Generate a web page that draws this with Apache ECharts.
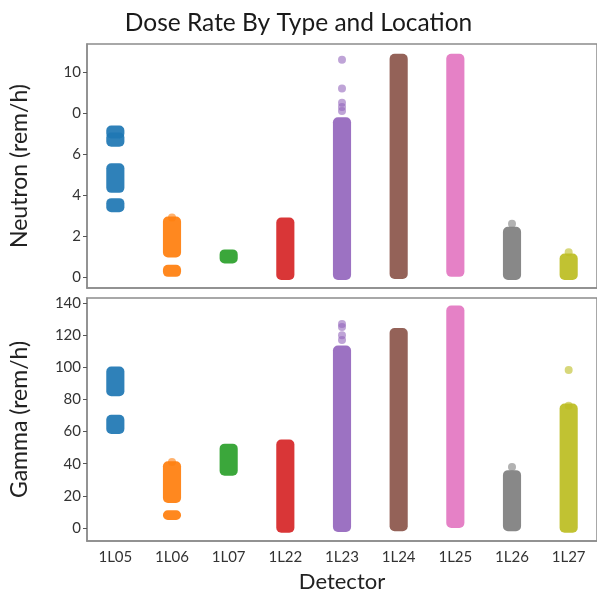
<!DOCTYPE html>
<html>
<head>
<meta charset="utf-8">
<script src="https://cdn.jsdelivr.net/npm/echarts@6/dist/echarts.min.js"></script>
<style>
  html, body { margin: 0; padding: 0; background: #fff; }
  #main { width: 597px; height: 597px; }
</style>
</head>
<body>
<div id="main"></div>
<script>
const detectors = ['1L05', '1L06', '1L07', '1L22', '1L23', '1L24', '1L25', '1L26', '1L27'];
const colors = ['#1f77b4', '#ff7f0e', '#2ca02c', '#d62728', '#9467bd', '#8c564b', '#e377c2', '#7f7f7f', '#bcbd22'];

// [detector index, low, high] of each dense band of readings
const neutronClusters = [
  [0, 6.95, 7.2], [0, 6.55, 6.85], [0, 4.3, 5.35], [0, 3.35, 3.65],
  [1, 1.15, 2.75], [1, 0.2, 0.4],
  [2, 0.85, 1.15],
  [3, 0.05, 2.7],
  [4, 0.05, 7.6],
  [5, 0.1, 10.7],
  [6, 0.2, 10.7],
  [7, 0.05, 2.25],
  [8, 0.05, 0.95]
];
const neutronOutliers = [[1, 2.9], [4, 10.6], [4, 9.2], [4, 8.5], [4, 8.3], [4, 8.1], [7, 2.6], [8, 1.2]];
const neutronTicks = [0, 2, 4, 6, 8, 10];
const neutronTickLabels = ['0', '2', '4', '6', '0', '10'];

const gammaClusters = [
  [0, 84.5, 98], [0, 61, 68],
  [1, 18, 39], [1, 7.5, 8.5],
  [2, 35, 50],
  [3, -0.5, 52.5],
  [4, 0, 111],
  [5, 0.5, 122],
  [6, 2.5, 136],
  [7, 0.5, 33.5],
  [8, -0.5, 75]
];
const gammaOutliers = [[1, 41], [4, 127], [4, 125], [4, 120], [4, 117], [7, 38], [8, 98.3], [8, 76]];
const gammaTicks = [0, 20, 40, 60, 80, 100, 120, 140];

const font = 'Lato';
const frame = '#8c8c8c';

function renderCluster(params, api) {
  const i = api.value(0);
  const top = api.coord([i, api.value(2)]);
  const bottom = api.coord([i, api.value(1)]);
  const bw = api.size([1, 0])[0] * 0.32;
  return {
    type: 'rect',
    shape: { x: top[0] - bw / 2, y: top[1] - 4, width: bw, height: bottom[1] - top[1] + 8, r: 5 },
    style: { fill: colors[i], opacity: 0.93 }
  };
}

function xAxisFor(gridIndex, showLabels) {
  return {
    type: 'category', gridIndex: gridIndex, data: detectors, boundaryGap: true,
    axisLine: { onZero: false, lineStyle: { color: frame, width: 1.5 } },
    axisTick: { alignWithLabel: true, length: 4, lineStyle: { color: '#555' } },
    axisLabel: { show: showLabels, color: '#333', fontSize: 15, fontFamily: font, margin: 9 },
    name: showLabels ? 'Detector' : '', nameLocation: 'middle', nameGap: 30,
    nameTextStyle: { color: '#222', fontSize: 22, fontFamily: font }
  };
}

function yAxisFor(gridIndex, name, min, max, ticks, labelFn) {
  return {
    type: 'value', gridIndex: gridIndex, min: min, max: max,
    splitLine: { show: false },
    axisLine: { show: true, onZero: false, lineStyle: { color: frame, width: 1.5 } },
    axisTick: { show: true, length: 4, customValues: ticks, lineStyle: { color: '#555' } },
    axisLabel: { customValues: ticks, formatter: labelFn, color: '#333', fontSize: 15, fontFamily: font, margin: 6 },
    name: name, nameLocation: 'middle', nameGap: 56,
    nameTextStyle: { color: '#222', fontSize: 23, fontFamily: font }
  };
}

const chart = echarts.init(document.getElementById('main'));
chart.setOption({
  animation: false,
  title: {
    text: 'Dose Rate By Type and Location', left: 'center', top: 6,
    textStyle: { fontSize: 24.5, fontWeight: 'normal', color: '#1a1a1a', fontFamily: font }
  },
  grid: [
    { left: 87, top: 44, width: 513, height: 244, show: true, borderColor: frame, borderWidth: 1.5 },
    { left: 87, top: 298, width: 513, height: 243, show: true, borderColor: frame, borderWidth: 1.5 }
  ],
  xAxis: [xAxisFor(0, false), xAxisFor(1, true)],
  yAxis: [
    yAxisFor(0, 'Neutron (rem/h)', -0.54, 11.37, neutronTicks,
      v => neutronTickLabels[neutronTicks.indexOf(v)]),
    yAxisFor(1, 'Gamma (rem/h)', -8.1, 143.1, gammaTicks, v => String(v))
  ],
  series: [
    { type: 'custom', xAxisIndex: 0, yAxisIndex: 0, renderItem: renderCluster, data: neutronClusters, encode: { x: 0, y: [1, 2] } },
    { type: 'scatter', xAxisIndex: 0, yAxisIndex: 0, data: neutronOutliers, symbolSize: 8,
      itemStyle: { color: p => colors[p.value[0]], opacity: 0.6 } },
    { type: 'custom', xAxisIndex: 1, yAxisIndex: 1, renderItem: renderCluster, data: gammaClusters, encode: { x: 0, y: [1, 2] } },
    { type: 'scatter', xAxisIndex: 1, yAxisIndex: 1, data: gammaOutliers, symbolSize: 8,
      itemStyle: { color: p => colors[p.value[0]], opacity: 0.6 } }
  ]
});
</script>
</body>
</html>
